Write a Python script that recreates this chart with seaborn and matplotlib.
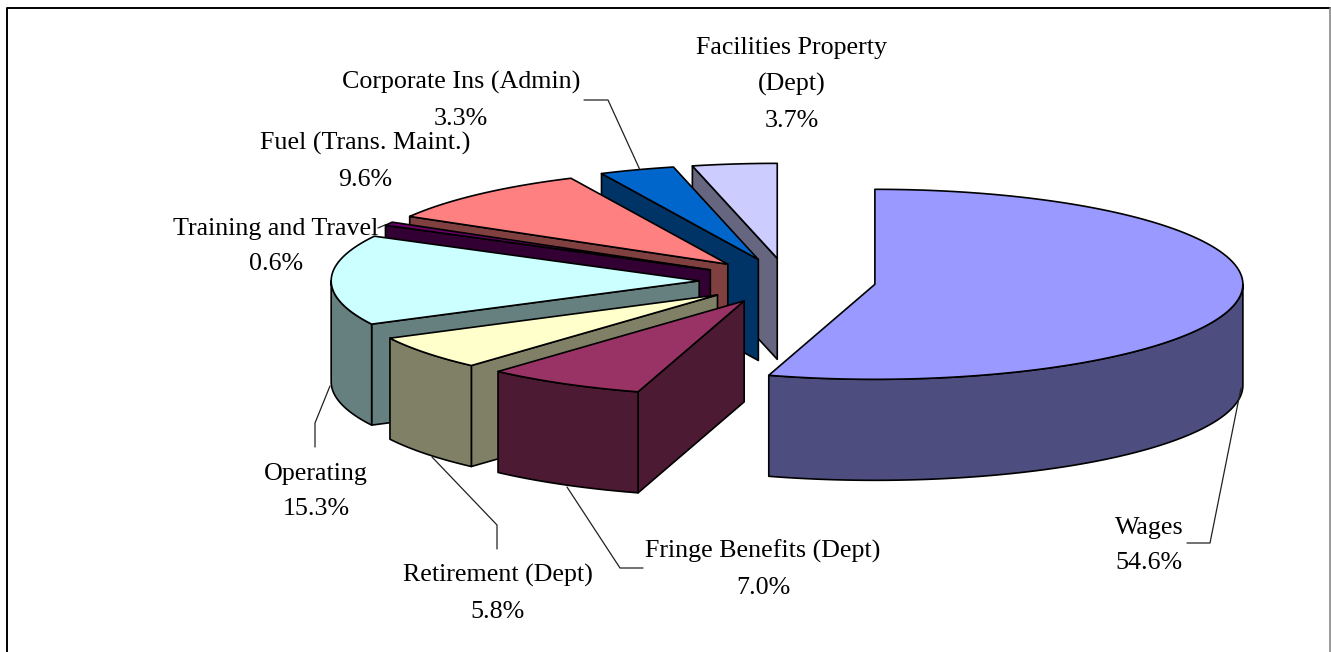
import numpy as np
import matplotlib
matplotlib.use('Agg')
import matplotlib.pyplot as plt
import seaborn as sns

# the values, clockwise from 12 o'clock
names = ['Wages', 'Fringe Benefits (Dept)', 'Retirement (Dept)', 'Operating',
         'Training and Travel', 'Fuel (Trans. Maint.)', 'Corporate Ins (Admin)',
         'Facilities Property\n(Dept)']
values = [54.6, 7.0, 5.8, 15.3, 0.6, 9.6, 3.3, 3.7]
top_colors = ['#9999FF', '#993366', '#FFFFCC', '#CCFFFF',
              '#660066', '#FF8080', '#0066CC', '#CCCCFF']

# where each label is centred
label_x = [1149, 763, 498, 316, 276, 365, 461, 792]
label_y = [545.5, 569.5, 593.5, 491.5, 246.5, 161.5, 100.5, 84.5]

# leader lines (x list, y list)
leaders = [([1187, 1210, 1241], [543, 543, 388]),
           ([643, 620, 567], [568, 568, 487]),
           ([497, 497, 432], [549, 525, 457]),
           ([315, 315, 330], [447, 423, 386]),
           ([378, 385], [228, 225]),
           ([584, 608, 640], [100, 100, 170])]

# pie geometry in pixels
cx, cy = 787.5, 281
rx, ry = 368, 95
depth = 101
explode = 0.24

sns.set_theme(style='white')
plt.rcParams['font.family'] = ['Liberation Serif', 'DejaVu Serif']

fig = plt.figure(figsize=(13.31, 6.52), dpi=100)
ax = fig.add_axes([0, 0, 1, 1])
ax.set_xlim(0, 1331)
ax.set_ylim(652, 0)
ax.set_axis_off()

# chart frame
ax.plot([6.5, 6.5, 1330], [652, 7.5, 7.5], color='black', lw=1.4)
ax.plot([1330, 1330], [7.5, 652], color='#888888', lw=1.2)


def rim(ox, oy, a, b):
    t = np.radians(np.linspace(a, b, max(int(abs(b - a) * 2), 2)))
    return ox + rx * np.sin(t), oy - ry * np.cos(t)


colors = sns.color_palette(top_colors)
edges = np.cumsum([0] + values) / sum(values) * 360
line = dict(edgecolor='black', linewidth=1.2, joinstyle='round')

# painter's order: back slices first, Wages last
for i in range(len(values) - 1, -1, -1):
    a, b = edges[i], edges[i + 1]
    mid = np.radians((a + b) / 2)
    ox = cx + explode * rx * np.sin(mid)
    oy = cy - explode * ry * np.cos(mid)
    dark = tuple(np.array(colors[i]) * 0.5)

    # cut wall on the leading edge, only when it faces the viewer
    if a > 180:
        ex, ey = rim(ox, oy, a, a)
        ax.fill([ex[0], ox, ox, ex[0]], [ey[0], oy, oy + depth, ey[0] + depth],
                facecolor=dark, **line)

    # outer rim, the front half only
    lo, hi = max(a, 90), min(b, 270)
    if lo < hi:
        rxs, rys = rim(ox, oy, lo, hi)
        ax.fill(np.r_[rxs, rxs[::-1]], np.r_[rys, rys[::-1] + depth],
                facecolor=dark, **line)

    # top face
    txs, tys = rim(ox, oy, a, b)
    ax.fill(np.r_[ox, txs], np.r_[oy, tys], facecolor=colors[i], **line)

for xs, ys in leaders:
    ax.plot(xs, ys, color='#222222', lw=0.9)

for name, v, x, y in zip(names, values, label_x, label_y):
    ax.text(x, y, f'{name}\n{v:.1f}%', ha='center', va='center',
            fontsize=18.7, color='black', linespacing=1.8)

fig.savefig('out.png', dpi=100, facecolor='white')
plt.close(fig)
